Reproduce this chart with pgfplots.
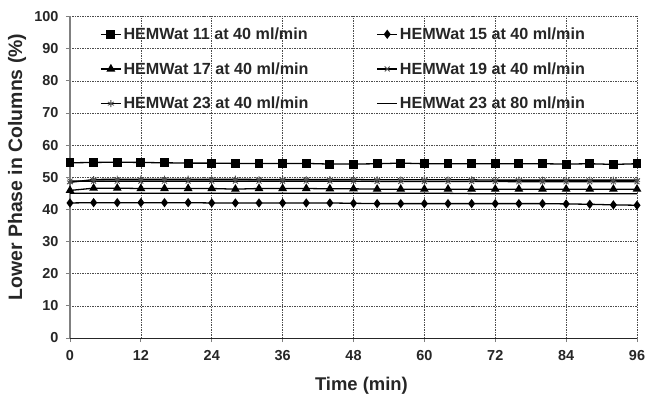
\documentclass[border=0pt]{standalone}
\usepackage{fontspec}
\setmainfont{Liberation Sans}
\usepackage{pgfplots}
\usepackage{pgfplotstable}
\pgfplotsset{compat=1.18}

\pgfplotstableread{
t  h11  h15  h17  h19  h23a h23b
0  54.5 42.0 45.9 48.8 48.4 45.0
4  54.6 42.1 46.6 48.8 49.3 45.0
8  54.7 42.1 46.6 48.8 49.4 45.0
12 54.6 42.1 46.5 48.8 49.4 45.0
16 54.5 42.1 46.5 48.8 49.4 45.0
20 54.4 42.1 46.5 48.8 49.4 45.0
24 54.4 42.0 46.5 48.8 49.4 45.0
28 54.3 42.0 46.3 48.8 49.4 45.0
32 54.3 42.0 46.5 48.8 49.3 45.0
36 54.3 42.0 46.5 48.8 49.3 45.0
40 54.3 42.0 46.5 48.8 49.3 45.0
44 54.1 42.0 46.4 48.8 49.3 45.0
48 54.1 41.9 46.4 48.8 49.3 45.0
52 54.2 41.8 46.3 48.7 49.2 45.0
56 54.4 41.8 46.3 48.7 49.2 45.0
60 54.2 41.8 46.3 48.7 49.2 45.0
64 54.2 41.8 46.3 48.7 49.2 45.0
68 54.2 41.8 46.3 48.7 49.2 44.9
72 54.2 41.8 46.3 48.7 49.1 44.9
76 54.2 41.8 46.3 48.6 49.1 44.9
80 54.2 41.8 46.3 48.6 49.1 44.9
84 54.1 41.7 46.3 48.6 49.1 44.9
88 54.2 41.6 46.3 48.6 49.1 44.9
92 54.0 41.4 46.3 48.6 49.1 44.9
96 54.2 41.3 46.3 48.6 49.1 44.9
}\data

\begin{document}
\begin{tikzpicture}
\begin{axis}[
  name=ax,
  scale only axis, width=567bp, height=321.5bp,
  xmin=0, xmax=96, ymin=0, ymax=100,
  xtick={0,12,...,96}, ytick={0,10,...,100},
  axis x line=bottom, axis y line=left,
  x axis line style={-, black!85, line width=1pt},
  y axis line style={-, gray, line width=1.2pt},
  tick align=outside, major tick length=4bp,
  tick style={gray, line width=0.8pt},
  grid=major,
  major grid style={dash pattern=on 1.5pt off 1pt, gray!60!black, line width=0.6pt},
  /pgf/number format/assume math mode=true,
  ticklabel style={font=\fontsize{14.5}{14.5}\selectfont\bfseries, text=black!85},
  xticklabel style={yshift=-5bp},
  yticklabel style={xshift=-4bp},
  xlabel={Time (min)},
  ylabel={Lower Phase in Columns (\%)},
  xlabel style={at={(axis description cs:0.514,-0.149)}, anchor=center,
    font=\fontsize{18.5}{18.5}\selectfont\bfseries, text=black!85},
  ylabel style={at={(axis description cs:-0.0935,0.532)}, anchor=center,
    font=\fontsize{19.5}{19.5}\selectfont\bfseries, text=black!85},
  legend columns=2,
  legend cell align=left,
  legend style={draw=none, fill=none, inner sep=0pt,
    at={(axis description cs:0.053,0.972)}, anchor=north west,
    font=\fontsize{16.2}{16.2}\selectfont\bfseries, text=black!85,
    row sep=17.5bp,
    /tikz/every even column/.append style={column sep=66bp}},
  legend image code/.code={\draw[mark repeat=2,mark phase=2] plot coordinates {(0bp,0bp)(10bp,0bp)(20bp,0bp)};},
  every axis plot/.append style={black, line width=1.3pt},
]
\addplot[mark=square*, mark size=3.8bp] table[x=t,y=h11] {\data};
\addlegendentry{HEMWat 11 at 40 ml/min}
\addplot[mark=diamond*, mark size=3.6bp] table[x=t,y=h15] {\data};
\addlegendentry{HEMWat 15 at 40 ml/min}
\addplot[mark=triangle*, mark size=3.8bp] table[x=t,y=h17] {\data};
\addlegendentry{HEMWat 17 at 40 ml/min}
\addplot[mark=x, mark size=3.5bp, mark options={line width=0.8pt, black!70}] table[x=t,y=h19] {\data};
\addlegendentry{HEMWat 19 at 40 ml/min}
\addplot[mark=asterisk, mark size=3.5bp, mark options={line width=0.8pt, black!70}] table[x=t,y=h23a] {\data};
\addlegendentry{HEMWat 23 at 40 ml/min}
\addplot[no marks] table[x=t,y=h23b] {\data};
\addlegendentry{HEMWat 23 at 80 ml/min}
\end{axis}
\pgfresetboundingbox
\path[use as bounding box] ([xshift=-70bp,yshift=-57bp]ax.south west) rectangle ([xshift=9bp,yshift=16.5bp]ax.north east);
\end{tikzpicture}
\end{document}
